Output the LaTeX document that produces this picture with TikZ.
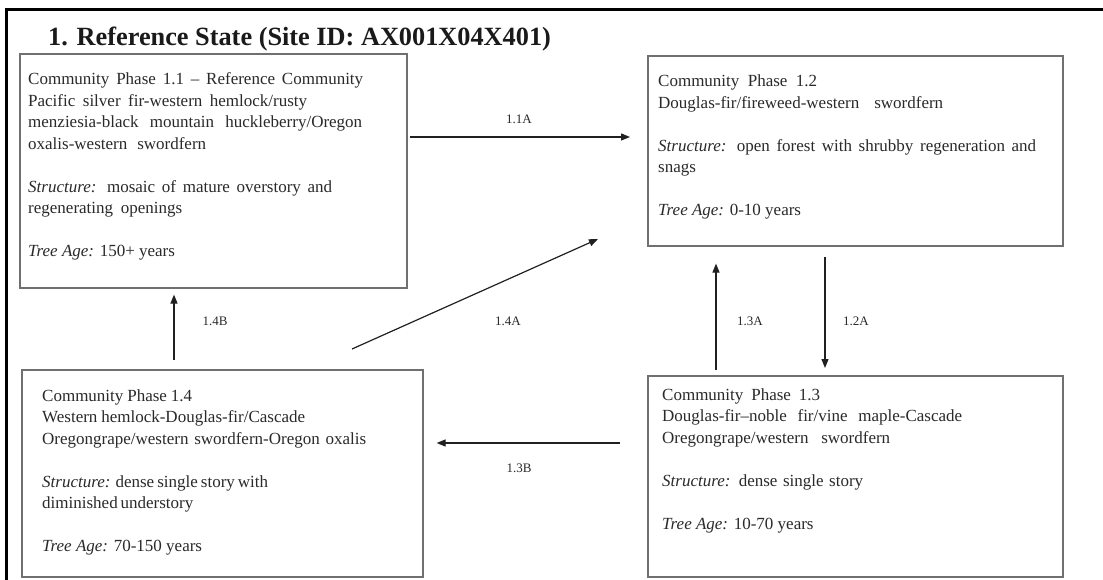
\documentclass[tikz,border=0pt]{standalone}
\usepackage{fontspec}
\setmainfont{Liberation Serif}
\usetikzlibrary{arrows.meta,calc}
\definecolor{textgray}{HTML}{2A2A2A}
\definecolor{boxgray}{HTML}{707070}
\definecolor{arrowgray}{HTML}{202020}
\definecolor{titlegray}{HTML}{1A1A1A}
\newcommand{\jl}[2]{\makebox[#1pt][s]{#2}}
\newcommand{\boxlines}[1]{\vtop{\baselineskip=21.5pt\lineskiplimit=-30pt\lineskip=0pt\halign{##\hfil\cr#1\crcr}}}
\begin{document}
\begin{tikzpicture}[x=1pt,y=-1pt,
  box/.style={draw=boxgray, line width=1.6pt, rectangle, inner sep=0pt, anchor=north west},
  btext/.style={anchor=base west, inner sep=0pt, text=textgray, font=\fontsize{17}{21.5}\selectfont},
  arr/.style={draw=arrowgray, line width=1.2pt, -{Triangle[length=9pt,width=7pt]}},
  lbl/.style={text=textgray, font=\fontsize{13}{15}\selectfont, inner sep=0pt}]
\useasboundingbox (0,0) rectangle (1103,580);
\fill[white] (0,0) rectangle (1103,580);
% outer frame
\draw[line width=3pt, black] (6,580) -- (6,10) -- (1103,10);
% title
\node[anchor=base west, inner sep=0pt, text=titlegray, font=\fontsize{26.3}{30}\selectfont\bfseries] (title) at (48,46) {1. Reference State (Site ID: AX001X04X401)};
% boxes
\node[box, minimum width=387pt, minimum height=234pt] (b11) at (19,53) {};
\node[box, minimum width=415pt, minimum height=190pt] (b12) at (647,55) {};
\node[box, minimum width=401pt, minimum height=207pt] (b14) at (21,369) {};
\node[box, minimum width=415pt, minimum height=201pt] (b13) at (647,375) {};
% box texts
\node[btext] (t11) at (28,85) {\boxlines{%
\jl{335}{Community Phase 1.1 – Reference Community}\cr
\jl{279}{Pacific silver fir-western hemlock/rusty}\cr
\jl{334}{menziesia-black mountain huckleberry/Oregon}\cr
\jl{178}{oxalis-western swordfern}\cr
\cr
\jl{304}{\textit{Structure:} mosaic of mature overstory and}\cr
\jl{154}{regenerating openings}\cr
\cr
\textit{Tree Age:} 150+ years}};
\node[btext] (t12) at (658,87) {\boxlines{%
\jl{159}{Community Phase 1.2}\cr
\jl{285}{Douglas-fir/fireweed-western swordfern}\cr
\cr
\jl{378}{\textit{Structure:} open forest with shrubby regeneration and}\cr
snags\cr
\cr
\textit{Tree Age:} 0-10 years}};
\node[btext] (t14) at (42,401) {\boxlines{%
\jl{150}{Community Phase 1.4}\cr
\jl{263}{Western hemlock-Douglas-fir/Cascade}\cr
\jl{324}{Oregongrape/western swordfern-Oregon oxalis}\cr
\cr
\jl{226}{\textit{Structure:} dense single story with}\cr
\jl{145}{diminished understory}\cr
\cr
\textit{Tree Age:} 70-150 years}};
\node[btext] (t13) at (662,400) {\boxlines{%
\jl{158}{Community Phase 1.3}\cr
\jl{300}{Douglas-fir–noble fir/vine maple-Cascade}\cr
\jl{228}{Oregongrape/western swordfern}\cr
\cr
\jl{201}{\textit{Structure:} dense single story}\cr
\cr
\textit{Tree Age:} 10-70 years}};
% connectors
\coordinate (c14a) at (352,349);
\coordinate (c14b) at (598,239);
\draw[arr] ($(b11.north east)+(2,84)$) -- ($(b12.north west)+(-17,82)$);
\draw[arr] ($(b14.north west)+(153,-9)$) -- ($(b11.south west)+(155,6)$);
\draw[arr] (c14a) -- (c14b);
\draw[arr] ($(b13.north west)+(69,-5)$) -- ($(b12.south west)+(69,17)$);
\draw[arr] ($(b12.south west)+(178,10)$) -- ($(b13.north west)+(178,-7)$);
\draw[arr] ($(b13.north west)+(-27,68)$) -- ($(b14.north east)+(13,74)$);
% labels
\node[lbl] (l11a) at (519,119) {1.1A};
\node[lbl] (l14b) at (215,321) {1.4B};
\node[lbl] (l14a) at (508,321) {1.4A};
\node[lbl] (l13a) at (750,321) {1.3A};
\node[lbl] (l12a) at (856,321) {1.2A};
\node[lbl] (l13b) at (519,468) {1.3B};
\end{tikzpicture}
\end{document}
